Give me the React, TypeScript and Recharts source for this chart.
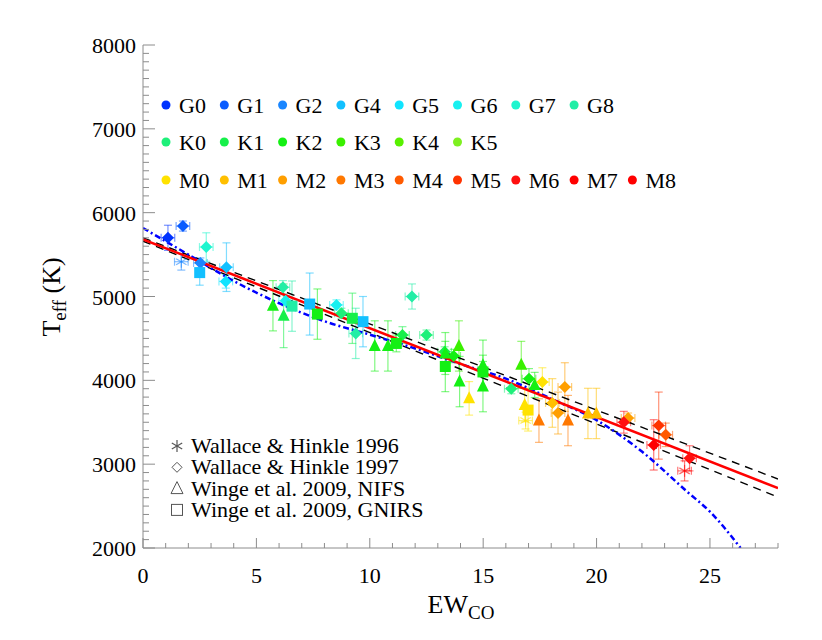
import React from 'react';
import { ComposedChart, Line, Scatter, XAxis, YAxis, ErrorBar, Customized } from 'recharts';

const FONT = 'Liberation Serif';
const AXIS_GREY = '#8c8c8c';

const SP_TYPES_G = ['G0', 'G1', 'G2', 'G4', 'G5', 'G6', 'G7', 'G8'];
const SP_TYPES_K = ['K0', 'K1', 'K2', 'K3', 'K4', 'K5'];
const SP_TYPES_M = ['M0', 'M1', 'M2', 'M3', 'M4', 'M5', 'M6', 'M7', 'M8'];

const SP_COLORS: Record<string, string> = {
  G0: '#0033ff', G1: '#0a5cff', G2: '#1a86ff', G4: '#12c0ff', G5: '#10e4ff', G6: '#18f0f0', G7: '#1ff5cf', G8: '#22eea6',
  K0: '#1ef07a', K1: '#16f04a', K2: '#14f014', K3: '#3af000', K4: '#58f000', K5: '#7ef020',
  M0: '#ffe200', M1: '#ffbf00', M2: '#ff9f00', M3: '#ff7800', M4: '#ff5a00', M5: '#ff3300', M6: '#ff1010', M7: '#ff0000', M8: '#ff0000',
};

// [EW_CO, Teff, Teff error, spectral type]
const wallace96: [number, number, number, string][] = [
  [1.69, 5415, 100, 'G2'], [16.87, 3520, 100, 'M0'], [23.88, 2920, 120, 'M7'],
];
const wallace97: [number, number, number, string][] = [
  [1.10, 5700, 150, 'G0'], [1.76, 5840, 60, 'G1'], [2.53, 5400, 60, 'G2'], [2.79, 5590, 170, 'G7'],
  [3.68, 5350, 290, 'G4'], [3.65, 5180, 80, 'G5'], [6.17, 5110, 80, 'G8'], [6.29, 4950, 60, 'G6'],
  [8.53, 4900, 60, 'G6'], [8.75, 4800, 60, 'K0'], [9.38, 4560, 300, 'G8'], [11.44, 4540, 100, 'K1'],
  [11.86, 5000, 150, 'G8'], [12.5, 4540, 60, 'K0'], [13.3, 4340, 60, 'K1'], [13.7, 4290, 80, 'K2'],
  [16.24, 3900, 60, 'K0'], [17.02, 4020, 120, 'K2'], [17.61, 3980, 170, 'M0'], [18.05, 3730, 290, 'M1'],
  [18.6, 3920, 290, 'M2'], [18.3, 3610, 250, 'M2'], [21.2, 3500, 130, 'M6'], [21.39, 3550, 60, 'M2'],
  [22.74, 3460, 400, 'M5'], [23.05, 3350, 140, 'M4'], [22.52, 3230, 300, 'M7'], [24.1, 3070, 150, 'M6'],
];
const wingeNifs: [number, number, number, string][] = [
  [5.73, 4890, 300, 'K2'], [6.2, 4770, 380, 'K1'], [10.22, 4410, 300, 'K2'], [10.8, 4410, 300, 'K2'],
  [13.33, 4320, 250, 'K2'], [13.93, 4410, 300, 'K3'], [13.96, 3985, 300, 'K2'], [14.38, 3785, 200, 'M0'],
  [14.99, 4180, 300, 'K2'], [14.99, 3925, 300, 'K2'], [16.68, 4185, 280, 'K3'], [17.27, 3945, 150, 'K2'],
  [16.83, 3705, 200, 'M0'], [17.46, 3520, 260, 'M3'], [18.74, 3520, 300, 'M3'], [19.62, 3605, 300, 'M1'],
  [19.99, 3605, 300, 'M1'],
];
const wingeGnirs: [number, number, number, string][] = [
  [2.50, 5285, 150, 'G4'], [6.57, 4885, 300, 'G8'], [7.35, 4910, 370, 'G4'], [7.69, 4790, 300, 'K2'],
  [9.23, 4740, 300, 'K1'], [9.70, 4700, 300, 'G4'], [11.17, 4440, 100, 'K2'], [13.33, 4165, 300, 'K2'],
  [14.99, 4100, 200, 'K2'], [16.98, 3645, 250, 'M0'],
];

// fits
const FIT_EW = [0, 28];
const FIT_RED = [5682, 2714];
const FIT_UPPER = [5700, 2823];
const FIT_LOWER = [5660, 2608];
const POLY_EW = [0, 2, 4, 6, 8, 10, 12, 14, 16, 18, 20, 22, 24, 25, 26.35];
const POLY_T = [5817, 5500, 5185, 4920, 4705, 4545, 4380, 4195, 4020, 3780, 3525, 3150, 2670, 2433, 2000];

const X_MAJOR = [0, 5, 10, 15, 20, 25];
const Y_MAJOR = [2000, 3000, 4000, 5000, 6000, 7000, 8000];
const X_TICKS = Array.from({ length: 29 }, (_, i) => i);
const Y_TICKS = Array.from({ length: 61 }, (_, i) => 2000 + i * 100);

type Pt = { x: number; y: number; ye: number; xe: number; sp: string; m: string };

const allPoints: Pt[] = [
  ...wallace96.map(([x, y, ye, sp]) => ({ x, y, ye, xe: 0.3, sp, m: 'star' })),
  ...wallace97.map(([x, y, ye, sp]) => ({ x, y, ye, xe: 0.3, sp, m: 'diamond' })),
  ...wingeNifs.map(([x, y, ye, sp]) => ({ x, y, ye, xe: 0, sp, m: 'triangle' })),
  ...wingeGnirs.map(([x, y, ye, sp]) => ({ x, y, ye, xe: 0, sp, m: 'square' })),
];

const groups = [...SP_TYPES_G, ...SP_TYPES_K, ...SP_TYPES_M]
  .map((sp) => ({ sp, pts: allPoints.filter((p) => p.sp === sp) }))
  .filter((g) => g.pts.length > 0);

const toLine = (xs: number[], ys: number[]) => xs.map((x, i) => ({ x, y: ys[i] }));

const drawMarker = (m: string, cx: number, cy: number, color: string, outline = false) => {
  const fill = outline ? 'none' : color;
  const stroke = outline ? color : 'none';
  if (m === 'diamond') {
    const s = outline ? 5 : 6;
    return <polygon points={`${cx},${cy - s} ${cx + s},${cy} ${cx},${cy + s} ${cx - s},${cy}`} fill={fill} stroke={stroke} />;
  }
  if (m === 'triangle') {
    const s = 6;
    return <polygon points={`${cx},${cy - s - 1} ${cx + s},${cy + s - 1} ${cx - s},${cy + s - 1}`} fill={fill} stroke={stroke} />;
  }
  if (m === 'square') {
    const s = 5.5;
    return <rect x={cx - s} y={cy - s} width={2 * s} height={2 * s} fill={fill} stroke={stroke} />;
  }
  const r = 6;
  const d = r * 0.866;
  return (
    <g stroke={color} strokeWidth={1.2} strokeOpacity={outline ? 1 : 0.6}>
      <line x1={cx} y1={cy - r} x2={cx} y2={cy + r} />
      <line x1={cx - d} y1={cy - r / 2} x2={cx + d} y2={cy + r / 2} />
      <line x1={cx - d} y1={cy + r / 2} x2={cx + d} y2={cy - r / 2} />
    </g>
  );
};

const renderShape = (props: any) => {
  const { cx, cy, payload } = props;
  if (cx == null || cy == null) return <g />;
  return drawMarker(payload.m, cx, cy, SP_COLORS[payload.sp]);
};

const BottomTick = (props: any) => {
  const { x, y, payload } = props;
  const major = X_MAJOR.includes(payload.value);
  return (
    <g>
      <line x1={x} x2={x} y1={y} y2={y - (major ? 10 : 5)} stroke={AXIS_GREY} />
      {major && <text x={x} y={y + 35} textAnchor="middle" fontSize={22} fontFamily={FONT} fill="#000">{payload.value}</text>}
    </g>
  );
};
const TopTick = (props: any) => {
  const { x, y, payload } = props;
  const major = X_MAJOR.includes(payload.value);
  return <line x1={x} x2={x} y1={y} y2={y + (major ? 10 : 5)} stroke={AXIS_GREY} />;
};
const LeftTick = (props: any) => {
  const { x, y, payload } = props;
  const major = Y_MAJOR.includes(payload.value);
  return (
    <g>
      <line x1={x} x2={x + (major ? 12 : 6)} y1={y} y2={y} stroke={AXIS_GREY} />
      {major && <text x={x - 7} y={y + 8} textAnchor="end" fontSize={22} fontFamily={FONT} fill="#000">{payload.value}</text>}
    </g>
  );
};
const RightTick = (props: any) => {
  const { x, y, payload } = props;
  const major = Y_MAJOR.includes(payload.value);
  return <line x1={x} x2={x - (major ? 12 : 6)} y1={y} y2={y} stroke={AXIS_GREY} />;
};

const Overlay = () => {
  const rows = [SP_TYPES_G, SP_TYPES_K, SP_TYPES_M];
  const rowY = [105, 142, 180];
  const sources = [
    ['star', 'Wallace & Hinkle 1996'],
    ['diamond', 'Wallace & Hinkle 1997'],
    ['triangle', 'Winge et al. 2009, NIFS'],
    ['square', 'Winge et al. 2009, GNIRS'],
  ];
  return (
    <g fontFamily={FONT} fill="#000">
      {rows.map((row, r) =>
        row.map((sp, i) => (
          <g key={sp}>
            <circle cx={166 + i * 58.3} cy={rowY[r]} r={4.5} fill={SP_COLORS[sp]} />
            <text x={179 + i * 58.3} y={rowY[r] + 8} fontSize={22} fontFamily={FONT}>{sp}</text>
          </g>
        ))
      )}
      {sources.map(([m, label], i) => (
        <g key={label}>
          {drawMarker(m, 177, 446 + i * 21.3, '#555', true)}
          <text x={191} y={453 + i * 21.3} fontSize={22} fontFamily={FONT}>{label}</text>
        </g>
      ))}
      <text x={461} y={613} textAnchor="middle" fontSize={26} fontFamily={FONT}>
        EW<tspan fontSize={19} dy={6}>CO</tspan>
      </text>
      <text transform="translate(60,297) rotate(-90)" textAnchor="middle" fontSize={26} fontFamily={FONT}>
        T<tspan fontSize={19} dy={6}>eff</tspan><tspan dy={-6}> (K)</tspan>
      </text>
    </g>
  );
};

export default function App() {
  return (
    <div style={{ position: 'absolute', left: 0, top: 0, width: 822, height: 640, background: '#fff' }}>
      <ComposedChart width={822} height={640} margin={{ top: 45, right: 44, bottom: 0, left: 0 }}>
        <XAxis dataKey="x" type="number" domain={[0, 28]} ticks={X_TICKS} interval={0} height={92}
          tickSize={0} tickMargin={0} tickLine={false} tick={<BottomTick />} axisLine={{ stroke: AXIS_GREY }} allowDataOverflow />
        <XAxis xAxisId="top" orientation="top" dataKey="x" type="number" domain={[0, 28]} ticks={X_TICKS} interval={0}
          height={0} tickSize={0} tickMargin={0} tickLine={false} tick={<TopTick />} axisLine={{ stroke: AXIS_GREY }} allowDataOverflow />
        <YAxis type="number" domain={[2000, 8000]} ticks={Y_TICKS} interval={0} width={143}
          tickSize={0} tickMargin={0} tickLine={false} tick={<LeftTick />} axisLine={{ stroke: AXIS_GREY }} allowDataOverflow />
        <YAxis yAxisId="right" orientation="right" type="number" domain={[2000, 8000]} ticks={Y_TICKS} interval={0} width={0}
          tickSize={0} tickMargin={0} tickLine={false} tick={<RightTick />} axisLine={{ stroke: AXIS_GREY }} allowDataOverflow />

        {groups.map((g) => (
          <Scatter key={g.sp} data={g.pts} dataKey="y" fill={SP_COLORS[g.sp]} shape={renderShape} isAnimationActive={false}>
            <ErrorBar dataKey="ye" direction="y" width={4} stroke={SP_COLORS[g.sp] + '88'} strokeWidth={1.2} />
            <ErrorBar dataKey="xe" direction="x" width={4} stroke={SP_COLORS[g.sp] + '88'} strokeWidth={1.2} />
          </Scatter>
        ))}

        <Line data={toLine(FIT_EW, FIT_UPPER)} dataKey="y" type="linear" dot={false} stroke="#000" strokeWidth={1.4}
          strokeDasharray="8 6" isAnimationActive={false} />
        <Line data={toLine(FIT_EW, FIT_LOWER)} dataKey="y" type="linear" dot={false} stroke="#000" strokeWidth={1.4}
          strokeDasharray="8 6" isAnimationActive={false} />
        <Line data={toLine(POLY_EW, POLY_T)} dataKey="y" type="monotone" dot={false} stroke="#0000ff" strokeWidth={2.5}
          strokeDasharray="6 3 2 3" isAnimationActive={false} />
        <Line data={toLine(FIT_EW, FIT_RED)} dataKey="y" type="linear" dot={false} stroke="#ff0000" strokeWidth={2.5}
          isAnimationActive={false} />
        <Customized component={<Overlay />} />
      </ComposedChart>
    </div>
  );
}
